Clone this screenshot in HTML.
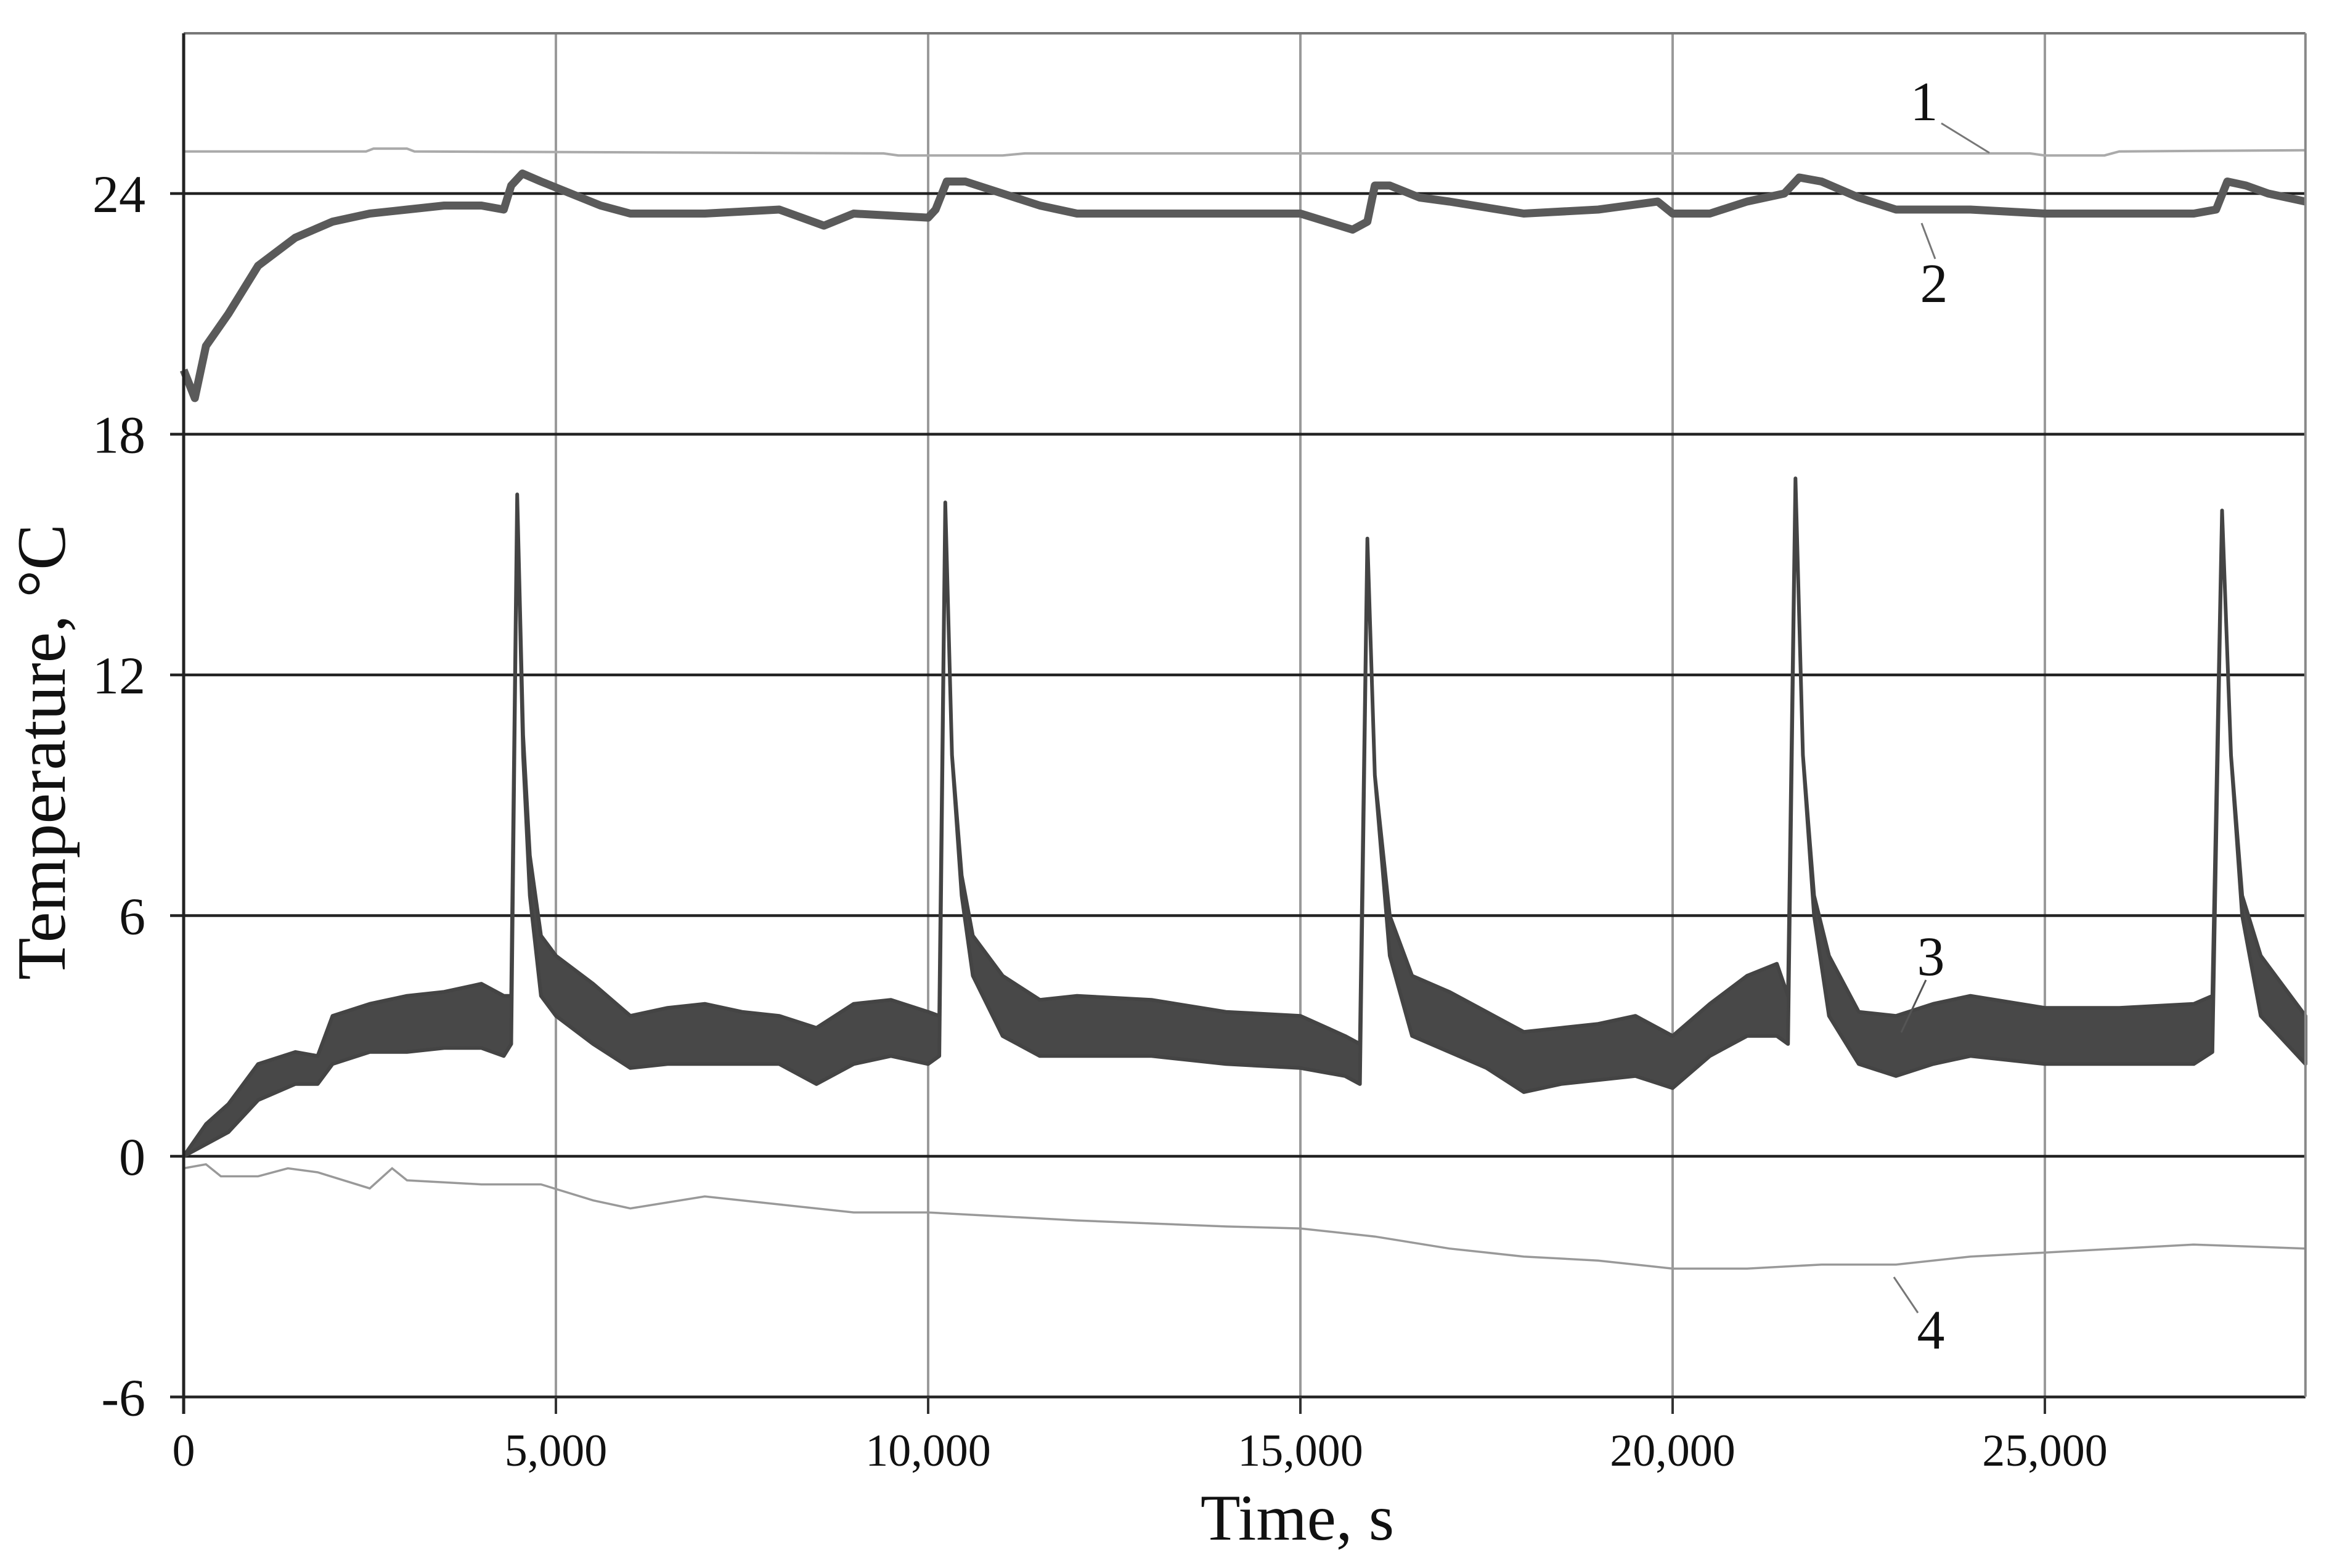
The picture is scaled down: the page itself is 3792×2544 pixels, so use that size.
<!DOCTYPE html>
<html><head><meta charset="utf-8">
<style>
html,body{margin:0;padding:0;background:#fff;}
svg{display:block;}
text{font-family:"Liberation Serif",serif;fill:#111;}
</style></head>
<body>
<svg id="chart" width="3792" height="2544" viewBox="0 0 3792 2544" xmlns="http://www.w3.org/2000/svg">
<g id="grid"></g>
<g id="series"></g>
<g id="axes"></g>
<g font-size="90">
  <text x="3122" y="195" text-anchor="middle">1</text>
  <line x1="3150" y1="200" x2="3228" y2="248" stroke="#777" stroke-width="3"/>
  <text x="3138" y="490" text-anchor="middle">2</text>
  <line x1="3118" y1="362" x2="3140" y2="420" stroke="#777" stroke-width="3"/>
  <text x="3133" y="1582" text-anchor="middle">3</text>
  <line x1="3125" y1="1590" x2="3085" y2="1675" stroke="#555" stroke-width="3"/>
  <text x="3133" y="2188" text-anchor="middle">4</text>
  <line x1="3073" y1="2072" x2="3112" y2="2130" stroke="#777" stroke-width="3"/>
</g>
<text x="2105" y="2498" font-size="106" text-anchor="middle">Time, s</text>
<text transform="translate(105,1220) rotate(-90)" font-size="112" text-anchor="middle">Temperature, °C</text>
</svg>
<script>
const xTicks = [0, 5000, 10000, 15000, 20000, 25000];
const xTickLabels = ["0", "5,000", "10,000", "15,000", "20,000", "25,000"];
const yTicks = [-6, 0, 6, 12, 18, 24];
const yTickLabels = ["-6", "0", "6", "12", "18", "24"];

const t1 = [0, 2450, 2550, 3000, 3100, 9400, 9600, 11000, 11300, 24800, 25000, 25800, 26000, 28500];
const v1 = [25.05, 25.05, 25.12, 25.12, 25.05, 25.0, 24.95, 24.95, 25.0, 25.0, 24.95, 24.95, 25.05, 25.08];

const t2 = [0,150,300,600,1000,1500,2000,2500,3000,3500,4000,4300,4400,4550,4800,5200,5600,6000,7000,8000,8600,9000,10000,10100,10250,10500,11000,11500,12000,13000,14000,15000,15700,15900,16000,16200,16600,17000,18000,19000,19800,20000,20500,21000,21500,21700,22000,22500,23000,24000,25000,26000,27000,27300,27450,27700,28000,28500];
const v2 = [19.6,18.9,20.2,21.0,22.2,22.9,23.3,23.5,23.6,23.7,23.7,23.6,24.2,24.5,24.3,24.0,23.7,23.5,23.5,23.6,23.2,23.5,23.4,23.6,24.3,24.3,24.0,23.7,23.5,23.5,23.5,23.5,23.1,23.3,24.2,24.2,23.9,23.8,23.5,23.6,23.8,23.5,23.5,23.8,24.0,24.4,24.3,23.9,23.6,23.6,23.5,23.5,23.5,23.6,24.3,24.2,24.0,23.8];

const t3 = [0,300,600,1000,1500,1800,2000,2500,3000,3500,4000,4300,4400,4480,4560,4650,4800,5000,5500,6000,6500,7000,7500,8000,8500,9000,9500,10000,10150,10230,10320,10450,10600,11000,11500,12000,13000,14000,15000,15600,15800,15900,16000,16200,16500,17000,17500,18000,18500,19000,19500,20000,20500,21000,21400,21550,21650,21750,21900,22100,22500,23000,23500,24000,25000,26000,27000,27250,27380,27500,27650,27900,28500];
const lo3 = [0,0.3,0.6,1.4,1.8,1.8,2.3,2.6,2.6,2.7,2.7,2.5,2.8,16.5,10.0,6.5,4.0,3.5,2.8,2.2,2.3,2.3,2.3,2.3,1.8,2.3,2.5,2.3,2.5,16.3,10.0,6.5,4.5,3.0,2.5,2.5,2.5,2.3,2.2,2.0,1.8,15.4,9.5,5.0,3.0,2.6,2.2,1.6,1.8,1.9,2.0,1.7,2.5,3.0,3.0,2.8,16.9,10.0,6.0,3.5,2.3,2.0,2.3,2.5,2.3,2.3,2.3,2.6,16.1,10.0,6.0,3.5,2.3];
const hi3 = [0,0.8,1.3,2.3,2.6,2.5,3.5,3.8,4.0,4.1,4.3,4.0,4.0,16.5,10.5,7.5,5.5,5.0,4.3,3.5,3.7,3.8,3.6,3.5,3.2,3.8,3.9,3.6,3.5,16.3,10.0,7.0,5.5,4.5,3.9,4.0,3.9,3.6,3.5,3.0,2.8,15.4,9.5,6.0,4.5,4.1,3.6,3.1,3.2,3.3,3.5,3.0,3.8,4.5,4.8,4.0,16.9,10.0,6.5,5.0,3.6,3.5,3.8,4.0,3.7,3.7,3.8,4.0,16.1,10.0,6.5,5.0,3.5];

const t4 = [0,300,500,1000,1400,1800,2500,2800,3000,4000,4800,5500,6000,7000,8000,9000,10000,12000,14000,15000,16000,17000,18000,19000,20000,21000,22000,23000,24000,25000,26000,27000,28500];
const v4 = [-0.3,-0.2,-0.5,-0.5,-0.3,-0.4,-0.8,-0.3,-0.6,-0.7,-0.7,-1.1,-1.3,-1.0,-1.2,-1.4,-1.4,-1.6,-1.75,-1.8,-2.0,-2.3,-2.5,-2.6,-2.8,-2.8,-2.7,-2.7,-2.5,-2.4,-2.3,-2.2,-2.3];

const X0 = 298, XPX = 604 / 5000, XMAX = 28500;
const Y24 = 314, YPX = 390.5 / 6, YTOP = 54, YBOT = 2266;
const xs = v => X0 + v * XPX;
const ys = v => Y24 + (24 - v) * YPX;
const XR = xs(XMAX);
const NS = "http://www.w3.org/2000/svg";
function mk(tag, attrs, parent) {
  const e = document.createElementNS(NS, tag);
  for (const k in attrs) e.setAttribute(k, attrs[k]);
  parent.appendChild(e);
  return e;
}
const grid = document.getElementById('grid');
const axes = document.getElementById('axes');
const series = document.getElementById('series');

xTicks.forEach((t, i) => {
  if (t > 0) {
    const g = mk('line', {x1: xs(t), x2: xs(t), y1: YTOP, y2: YBOT, stroke: '#9a9a9a', 'stroke-width': 4}, grid);
    
    
  }
  const tk = mk('line', {x1: xs(t), x2: xs(t), y1: YBOT, y2: YBOT + 28, stroke: '#333', 'stroke-width': 4}, axes);
  
  
  const lb = mk('text', {x: xs(t), y: YBOT + 112, 'font-size': 74, 'text-anchor': 'middle'}, axes);
  lb.textContent = xTickLabels[i];
  
  
});
yTicks.forEach((v, i) => {
  const g = mk('line', {x1: X0 - 22, x2: XR, y1: ys(v), y2: ys(v), stroke: '#222', 'stroke-width': 4.5}, grid);
  
  
  const lb = mk('text', {x: 236, y: ys(v) + 30, 'font-size': 86, 'text-anchor': 'end'}, axes);
  lb.textContent = yTickLabels[i];
  
  
});
const topB = mk('line', {x1: X0, x2: XR, y1: YTOP, y2: YTOP, stroke: '#777', 'stroke-width': 4}, axes);


const rightB = mk('line', {x1: XR, x2: XR, y1: YTOP, y2: YBOT, stroke: '#888', 'stroke-width': 4}, axes);


const yAx = mk('line', {x1: X0, x2: X0, y1: YTOP, y2: YBOT + 28, stroke: '#222', 'stroke-width': 5}, axes);



function pathOf(t, v) { return t.map((tt, i) => (i ? 'L' : 'M') + xs(tt).toFixed(1) + ',' + ys(v[i]).toFixed(1)).join(''); }

const s1 = mk('path', {d: pathOf(t1, v1), fill: 'none', stroke: '#aaa', 'stroke-width': 4}, series);



const s4 = mk('path', {d: pathOf(t4, v4), fill: 'none', stroke: '#999', 'stroke-width': 3.5}, series);



const s2 = mk('path', {d: pathOf(t2, v2), fill: 'none', stroke: '#5a5a5a', 'stroke-width': 13, 'stroke-linejoin': 'round'}, series);



let d3 = t3.map((t, i) => (i ? 'L' : 'M') + xs(t).toFixed(1) + ',' + ys(hi3[i]).toFixed(1)).join('');
for (let i = t3.length - 1; i >= 0; i--) d3 += 'L' + xs(t3[i]).toFixed(1) + ',' + ys(lo3[i]).toFixed(1);
d3 += 'Z';
const s3 = mk('path', {d: d3, fill: '#484848', stroke: '#444', 'stroke-width': 6, 'stroke-linejoin': 'round'}, series);


</script>
</body></html>
